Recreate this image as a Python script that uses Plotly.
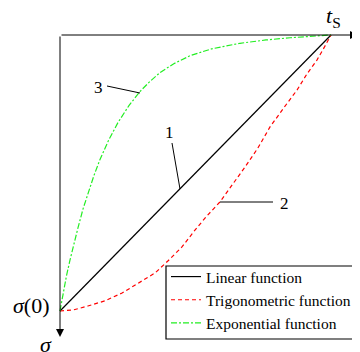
import plotly.graph_objects as go

# normalised time t/tS and normalised stress (sigma - sigma(0))/(sigma(tS) - sigma(0))
lin_t = [0.0, 1.0]
lin_s = [0.0, 1.0]

trig_t = [0.0, 0.050, 0.103, 0.166, 0.229, 0.290, 0.351, 0.400, 0.450, 0.498, 0.539, 0.590,
          0.636, 0.683, 0.730, 0.775, 0.825, 0.875, 0.912, 0.948, 0.975, 1.0]
trig_s = [0.0, 0.004, 0.018, 0.037, 0.065, 0.100, 0.138, 0.183, 0.232, 0.293, 0.341, 0.395,
          0.457, 0.522, 0.590, 0.667, 0.735, 0.801, 0.860, 0.909, 0.955, 1.0]

exp_t = [0.0, 0.011, 0.024, 0.037, 0.050, 0.066, 0.085, 0.103, 0.125, 0.148, 0.180, 0.214,
         0.255, 0.295, 0.330, 0.369, 0.420, 0.480, 0.560, 0.664, 0.760, 0.849, 0.930, 1.0]
exp_s = [0.0, 0.062, 0.128, 0.185, 0.240, 0.300, 0.370, 0.428, 0.490, 0.550, 0.620, 0.683,
         0.745, 0.795, 0.830, 0.864, 0.896, 0.925, 0.950, 0.970, 0.982, 0.990, 0.996, 1.0]

names = ["Linear function", "Trigonometric function", "Exponential function"]

SERIF = '"Liberation Serif", "Times New Roman", Times, serif'

fig = go.Figure()
fig.add_trace(go.Scatter(x=lin_t, y=lin_s, mode="lines", name=names[0],
                         line=dict(color="black", width=1.2, dash="solid")))
fig.add_trace(go.Scatter(x=trig_t, y=trig_s, mode="lines", name=names[1],
                         line=dict(color="#ff0000", width=1.2, dash="4px,3px")))
fig.add_trace(go.Scatter(x=exp_t, y=exp_s, mode="lines", name=names[2],
                         line=dict(color="#22ee22", width=1.2, dash="6px,2px,2px,2px")))

# page body has an 8px margin: the figure is drawn at (8, 8) in the window
OFF = 8
W, H = 360 - OFF, 352 - OFF
# reference pixel mapping: x 0->60px, 1->331px ; y 0->311px, 1->35px
x0p, x1p = 60 - OFF, 331 - OFF
y0p, y1p = 311 - OFF, 35 - OFF
sx = x1p - x0p
sy = y0p - y1p
xr = [(0 - x0p) / sx, (W - x0p) / sx]
yr = [(y0p - H) / sy, (y0p - 0) / sy]

def px(xp):
    return (xp - OFF - x0p) / sx

def py(yp):
    return (y0p - (yp - OFF)) / sy

def ppx(xp):
    return (xp - OFF) / W

def ppy(yp):
    return 1 - (yp - OFF) / H

ann = []
# axes arrows
ann.append(dict(x=px(358), y=1, ax=0, ay=1, xref="x", yref="y", axref="x", ayref="y",
                showarrow=True, arrowhead=2, arrowsize=1.6, arrowwidth=1, arrowcolor="black", text=""))
ann.append(dict(x=0, y=py(337), ax=0, ay=1, xref="x", yref="y", axref="x", ayref="y",
                showarrow=True, arrowhead=2, arrowsize=1.6, arrowwidth=1, arrowcolor="black", text=""))
# axis labels
ann.append(dict(x=px(333), y=py(17), xref="x", yref="y", showarrow=False,
                text="<i>t</i><sub>S</sub>", font=dict(family=SERIF, size=22, color="black")))
ann.append(dict(x=ppx(352), y=ppy(16), xref="paper", yref="paper", showarrow=False,
                xanchor="left", yanchor="middle",
                text="<i>t</i>", font=dict(family=SERIF, size=22, color="black")))
ann.append(dict(x=px(31), y=py(305), xref="x", yref="y", showarrow=False,
                text="<i>σ</i>(0)", font=dict(family=SERIF, size=22, color="black")))
ann.append(dict(x=px(46), y=py(344), xref="x", yref="y", showarrow=False,
                text="<i>σ</i>", font=dict(family=SERIF, size=22, color="black")))
# curve number labels
ann.append(dict(x=px(98), y=py(87), xref="x", yref="y", showarrow=False,
                text="3", font=dict(family=SERIF, size=17, color="black")))
ann.append(dict(x=px(169), y=py(132), xref="x", yref="y", showarrow=False,
                text="1", font=dict(family=SERIF, size=17, color="black")))
ann.append(dict(x=px(284), y=py(203), xref="x", yref="y", showarrow=False,
                text="2", font=dict(family=SERIF, size=17, color="black")))

shapes = [
    dict(type="line", xref="x", yref="y", x0=px(107), y0=py(86), x1=px(140), y1=py(93),
         line=dict(color="black", width=1)),
    dict(type="line", xref="x", yref="y", x0=px(172), y0=py(143), x1=px(180), y1=py(189),
         line=dict(color="black", width=1)),
    dict(type="line", xref="x", yref="y", x0=px(220), y0=py(202), x1=px(273), y1=py(202),
         line=dict(color="black", width=1)),
    # legend frame
    dict(type="rect", xref="paper", yref="paper", x0=ppx(166), y0=ppy(339), x1=ppx(372), y1=ppy(266),
         line=dict(color="black", width=1.2), fillcolor="white", layer="above"),
]

fig.update_layout(
    width=W, height=H,
    margin=dict(l=0, r=0, t=0, b=0, pad=0, autoexpand=False),
    paper_bgcolor="white", plot_bgcolor="white",
    xaxis=dict(range=xr, visible=False, fixedrange=True),
    yaxis=dict(range=yr, visible=False, fixedrange=True),
    annotations=ann, shapes=shapes,
    showlegend=True,
    legend=dict(x=ppx(166), y=ppy(260), xanchor="left", yanchor="top",
                borderwidth=0, bgcolor="rgba(0,0,0,0)",
                font=dict(family=SERIF, size=15.5, color="black"),
                tracegroupgap=0, itemwidth=30),
)

fig.write_html("out.html")
